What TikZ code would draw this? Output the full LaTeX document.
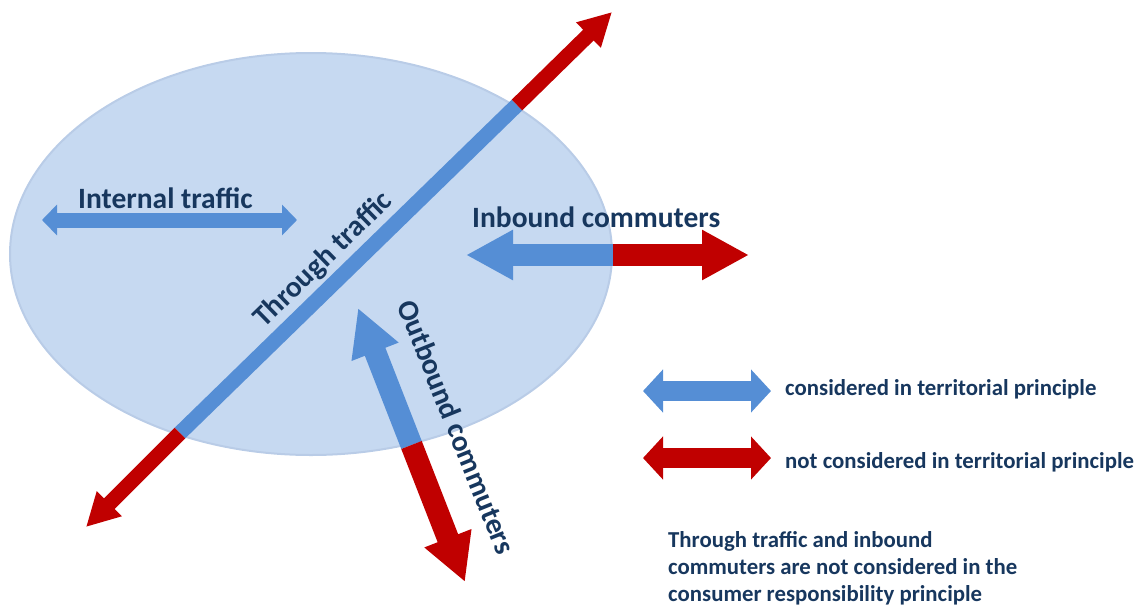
\documentclass[tikz,border=0pt]{standalone}
\usepackage{fontspec}
\setmainfont{Carlito}
\usetikzlibrary{arrows.meta, calc, positioning}
\definecolor{flowBlue}{RGB}{85,142,213}
\definecolor{flowRed}{RGB}{192,0,0}
\definecolor{zoneFill}{RGB}{198,217,241}
\definecolor{zoneLine}{RGB}{185,204,231}
\definecolor{labelInk}{RGB}{23,55,94}
\tikzset{
    zone/.style={fill=zoneFill, draw=zoneLine, line width=2pt},
    thinFlow/.style={line width=15pt},
    wideFlow/.style={line width=22pt},
    keyFlow/.style={line width=20pt},
    thinTip/.style={-{Triangle[length=33pt, width=33pt]}},
    wideTip/.style={-{Triangle[length=47pt, width=47pt]}},
    innerTips/.style={{Triangle[length=15pt, width=30pt]}-{Triangle[length=15pt, width=30pt]}},
    keyTips/.style={{Triangle[length=20pt, width=42pt]}-{Triangle[length=20pt, width=42pt]}},
    bigLabel/.style={font=\bfseries\fontsize{29.5}{35}\selectfont, text=labelInk, inner sep=0pt},
    keyLabel/.style={font=\bfseries\fontsize{22.8}{27}\selectfont, text=labelInk, inner sep=0pt},
}
% a flow that is blue inside the zone and red once it leaves it
\newcommand{\drawOutFlow}[4][thinFlow]{
    \draw[#1, flowRed, #4] (#2) -- (#3);
}

\begin{document}
\begin{tikzpicture}[x=1pt, y=-1pt]
        \useasboundingbox (0,0) rectangle (1139,605);

        % the territory
        \draw[zone] (311,254) ellipse [x radius=301, y radius=201];

        % through traffic
        \coordinate (thruS) at (86,527);
        \coordinate (thruA) at (180,433);
        \coordinate (thruB) at (517,105);
        \coordinate (thruN) at (612,12);
        \draw[thinFlow, flowBlue] (thruA) -- (thruB);
        \drawOutFlow{thruA}{thruS}{thinTip}
        \drawOutFlow{thruB}{thruN}{thinTip}
        \path (thruA) -- node[bigLabel, sloped, pos=0.475, above=10.5pt] (thruLabel) {Through traffic} (thruB);

        % internal traffic
        \coordinate (intW) at (42,220);
        \coordinate (intE) at (297,220);
        \draw[thinFlow, flowBlue, innerTips] (intW) -- (intE);
        \node[bigLabel, anchor=base west] (intLabel) at (78,208) {Internal traffic};

        % inbound commuters
        \coordinate (inW) at (466,255);
        \coordinate (inEdge) at (613,255);
        \coordinate (inE) at (749,255);
        \draw[wideFlow, flowBlue, wideTip] (inEdge) -- (inW);
        \drawOutFlow[wideFlow]{inEdge}{inE}{wideTip}
        \node[bigLabel, anchor=base west] (inLabel) at (472,227) {Inbound commuters};

        % outbound commuters
        \coordinate (outN) at (358,308);
        \coordinate (outEdge) at (411.5,445);
        \coordinate (outS) at (465,582);
        \draw[wideFlow, flowBlue, wideTip] (outEdge) -- (outN);
        \drawOutFlow[wideFlow]{outEdge}{outS}{wideTip}
        \node[bigLabel, rotate=-68] (outLabel) at (457,427) {Outbound commuters};

        % legend
        \coordinate (keyBlueW) at (643,391);
        \coordinate (keyBlueE) at (771,391);
        \coordinate (keyRedW) at (643,458);
        \coordinate (keyRedE) at (771,458);
        \draw[keyFlow, flowBlue, keyTips] (keyBlueW) -- (keyBlueE);
        \draw[keyFlow, flowRed, keyTips] (keyRedW) -- (keyRedE);
        \node[keyLabel, anchor=base west] (keyBlue) at (785,395) {considered in territorial principle};
        \node[keyLabel, anchor=base west] (keyRed) at (785,468) {not considered in territorial principle};

        \node[keyLabel, anchor=north west, align=left] (note) at (668,531)
            {Through traffic and inbound\\commuters are not considered in the\\consumer responsibility principle};

    \end{tikzpicture}
\end{document}
